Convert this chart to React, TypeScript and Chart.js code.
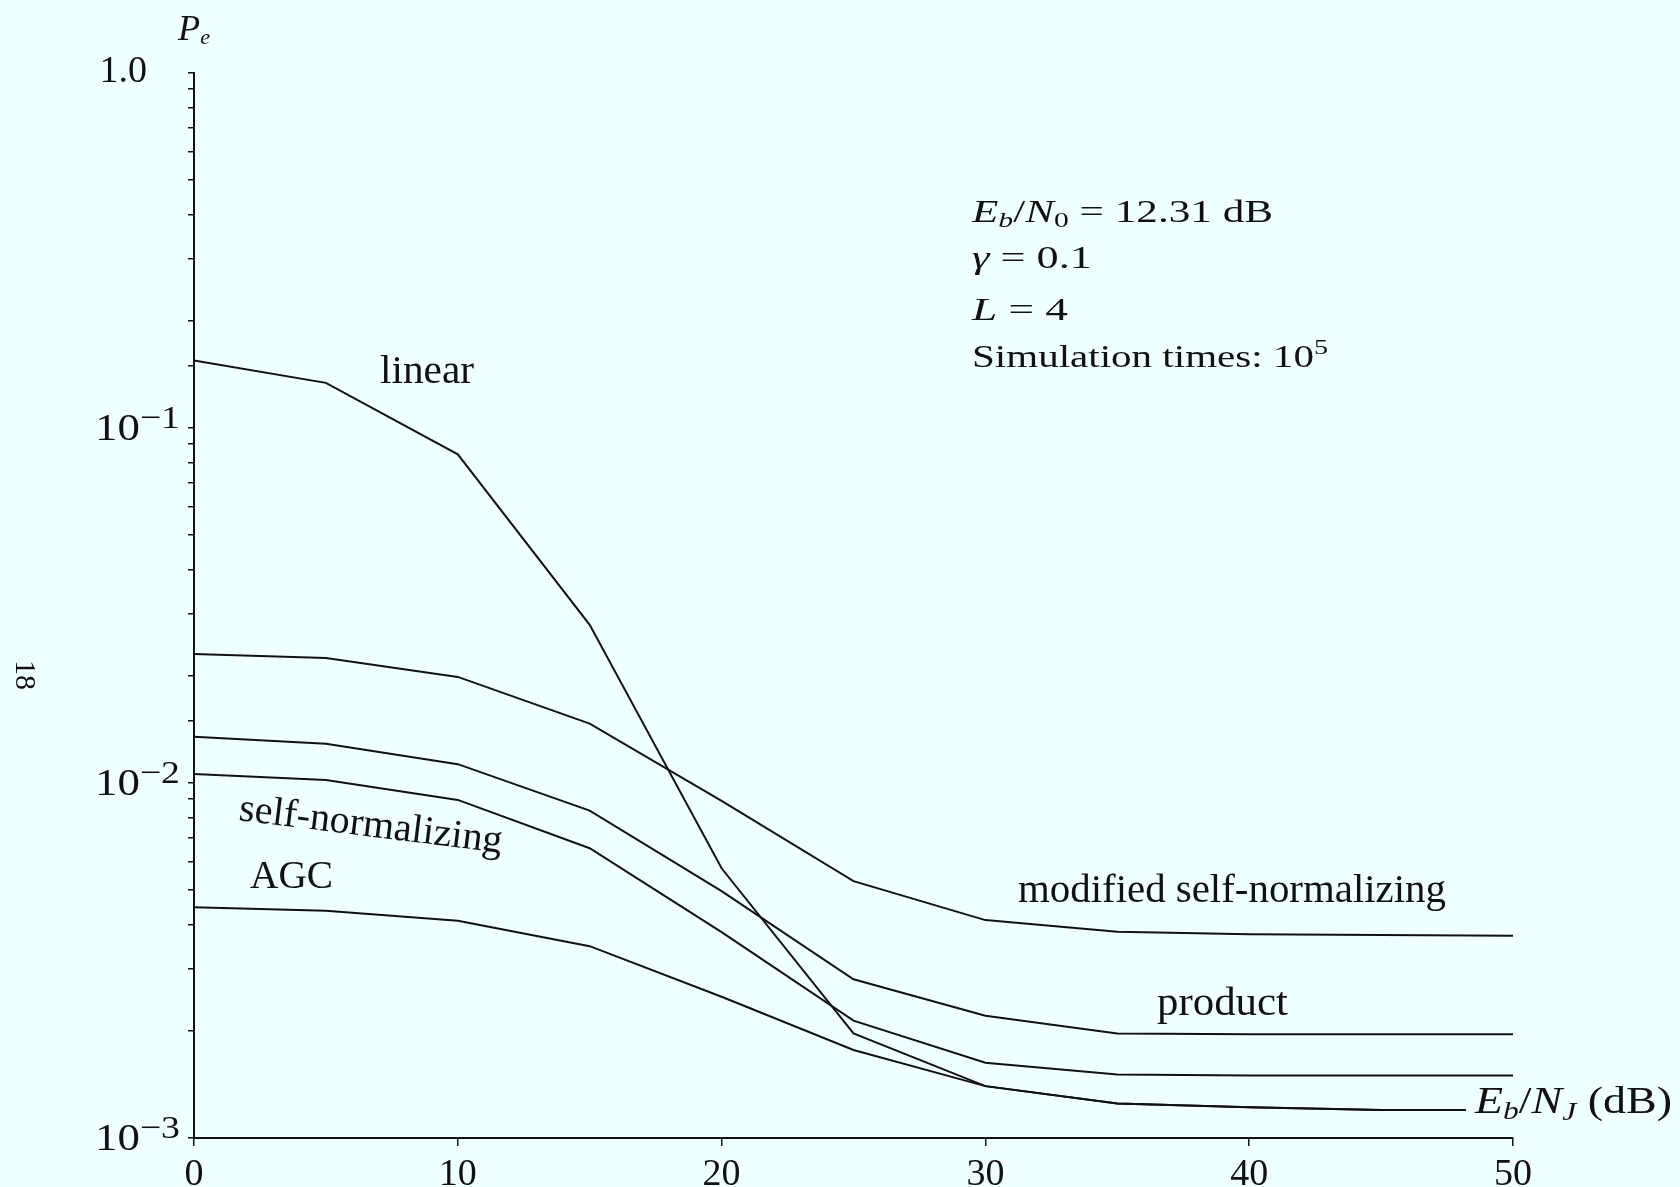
import React, { useEffect, useRef } from "react";
import { Chart, registerables } from "chart.js";

Chart.register(...registerables);

// ---- data ----
const ebnjDb = [0, 5, 10, 15, 20, 25, 30, 35, 40, 45, 50];
const linearPe = [0.155, 0.134, 0.0843, 0.0279, 0.00575, 0.00197, 0.0014, 0.00125, 0.00122, 0.0012, 0.0012];
const modifiedSelfNormPe = [0.0231, 0.0225, 0.0199, 0.0147, 0.0089, 0.00529, 0.00411, 0.00381, 0.00375, 0.00373, 0.00371];
const productPe = [0.0135, 0.0129, 0.0113, 0.00836, 0.00496, 0.0028, 0.00221, 0.00197, 0.00196, 0.00196, 0.00196];
const selfNormPe = [0.0106, 0.0102, 0.00896, 0.00655, 0.0038, 0.00214, 0.00163, 0.00151, 0.0015, 0.0015, 0.0015];
const agcPe = [0.00447, 0.00437, 0.00409, 0.00347, 0.0025, 0.00177, 0.0014, 0.00125, 0.00122, 0.0012, 0.0012];

const xTickValues = [0, 10, 20, 30, 40, 50];
const xTickLabels = ["0", "10", "20", "30", "40", "50"];
const yDecadeValues = [0.001, 0.01, 0.1];
const yDecadeExponents = ["\u22123", "\u22122", "\u22121"];
const yTopValue = 1;
const yTopLabel = "1.0";

const BG = "#f0ffff";
const INK = "#111111";
const SERIF = '"Liberation Serif", "Times New Roman", serif';

type Seg = { t: string; size: number; italic?: boolean; dy?: number };

function drawRich(ctx: CanvasRenderingContext2D, x: number, y: number, segs: Seg[], target?: number) {
  ctx.save();
  const widths: number[] = [];
  let total = 0;
  for (const s of segs) {
    ctx.font = `${s.italic ? "italic " : ""}${s.size}px ${SERIF}`;
    const w = ctx.measureText(s.t).width;
    widths.push(w);
    total += w;
  }
  const sc = target ? target / total : 1;
  ctx.translate(x, y);
  ctx.scale(sc, 1);
  ctx.textAlign = "left";
  ctx.textBaseline = "alphabetic";
  ctx.fillStyle = INK;
  let cx = 0;
  segs.forEach((s, i) => {
    ctx.font = `${s.italic ? "italic " : ""}${s.size}px ${SERIF}`;
    ctx.fillText(s.t, cx, s.dy || 0);
    cx += widths[i];
  });
  ctx.restore();
}

const textPlugin = {
  id: "refText",
  afterDraw(chart: any) {
    const ctx: CanvasRenderingContext2D = chart.ctx;
    const xs = chart.scales.x;
    const ys = chart.scales.y;
    ctx.save();
    ctx.fillStyle = INK;

    // x tick labels
    ctx.font = `38px ${SERIF}`;
    ctx.textAlign = "center";
    ctx.textBaseline = "alphabetic";
    xTickValues.forEach((v, i) => {
      ctx.fillText(xTickLabels[i], xs.getPixelForValue(v), ys.bottom + 47);
    });

    // y tick labels
    yDecadeValues.forEach((v, i) => {
      const py = ys.getPixelForValue(v);
      drawRich(ctx, 95, py + 12, [
        { t: "10", size: 38 },
        { t: yDecadeExponents[i], size: 32, dy: -12 },
      ], 85);
    });
    const pTop = ys.getPixelForValue(yTopValue);
    ctx.font = `38px ${SERIF}`;
    ctx.textAlign = "right";
    ctx.fillText(yTopLabel, 147, pTop + 9);

    // axis titles
    drawRich(ctx, 178, 40, [
      { t: "P", size: 36, italic: true },
      { t: "e", size: 22, italic: true, dy: 4 },
    ], 32);

    ctx.fillStyle = BG;
    ctx.fillRect(1466, 1080, 214, 45);
    drawRich(ctx, 1475, 1113, [
      { t: "E", size: 38, italic: true },
      { t: "b", size: 26, italic: true, dy: 6 },
      { t: "/", size: 38 },
      { t: "N", size: 38, italic: true },
      { t: "J", size: 26, italic: true, dy: 7 },
      { t: " (dB)", size: 38 },
    ], 197);

    // curve labels
    drawRich(ctx, 380, 383, [{ t: "linear", size: 40 }], 94);
    ctx.save();
    ctx.translate(238, 820);
    ctx.rotate(0.124);
    drawRich(ctx, 0, 0, [{ t: "self-normalizing", size: 40 }], 265);
    ctx.restore();
    drawRich(ctx, 250, 888, [{ t: "AGC", size: 40 }], 83);
    drawRich(ctx, 1018, 902, [{ t: "modified self-normalizing", size: 40 }], 428);
    drawRich(ctx, 1157, 1015, [{ t: "product", size: 40 }], 131);

    // annotation block
    drawRich(ctx, 972, 222, [
      { t: "E", size: 32, italic: true },
      { t: "b", size: 22, italic: true, dy: 5 },
      { t: "/", size: 32 },
      { t: "N", size: 32, italic: true },
      { t: "0", size: 22, dy: 5 },
      { t: " = 12.31 dB", size: 32 },
    ], 301);
    drawRich(ctx, 972, 268, [
      { t: "\u03b3", size: 32, italic: true },
      { t: " = 0.1", size: 32 },
    ], 120);
    drawRich(ctx, 972, 320, [
      { t: "L", size: 32, italic: true },
      { t: " = 4", size: 32 },
    ], 96);
    drawRich(ctx, 972, 367, [
      { t: "Simulation times: 10", size: 32 },
      { t: "5", size: 22, dy: -13 },
    ], 356);

    // page number
    ctx.save();
    ctx.translate(24, 675);
    ctx.rotate(Math.PI / 2);
    ctx.font = `30px ${SERIF}`;
    ctx.textAlign = "center";
    ctx.textBaseline = "middle";
    ctx.fillStyle = INK;
    ctx.fillText("18", 0, 0);
    ctx.restore();

    ctx.restore();
  },
};

function series(values: number[]) {
  return ebnjDb.map((x, i) => ({ x, y: values[i] }));
}

export default function App() {
  const canvasRef = useRef<HTMLCanvasElement | null>(null);

  useEffect(() => {
    document.body.style.margin = "0";
    document.body.style.background = BG;
    document.body.style.overflow = "hidden";
    const canvas = canvasRef.current;
    if (!canvas) return;
    const lineDs = (label: string, values: number[]) => ({
      label,
      data: series(values),
      borderColor: INK,
      borderWidth: 2,
      pointRadius: 0,
      tension: 0,
      fill: false,
    });
    const chart = new Chart(canvas, {
      type: "line",
      data: {
        datasets: [
          lineDs("linear", linearPe),
          lineDs("modified self-normalizing", modifiedSelfNormPe),
          lineDs("product", productPe),
          lineDs("self-normalizing", selfNormPe),
          lineDs("AGC", agcPe),
        ],
      },
      options: {
        animation: false,
        responsive: false,
        devicePixelRatio: 1,
        layout: { padding: { left: 188, right: 167, top: 73, bottom: 41 } },
        plugins: { legend: { display: false }, tooltip: { enabled: false } },
        scales: {
          x: {
            type: "linear",
            min: 0,
            max: 50,
            ticks: { display: false, stepSize: 10, autoSkip: false },
            grid: { display: true, drawOnChartArea: false, drawTicks: true, tickLength: 8, color: INK, lineWidth: 1.5 },
            border: { display: true, color: INK, width: 2 },
          },
          y: {
            type: "logarithmic",
            min: 0.001,
            max: 1,
            ticks: { display: false, autoSkip: false },
            grid: { display: true, drawOnChartArea: false, drawTicks: true, tickLength: 6, color: INK, lineWidth: 1.5 },
            border: { display: true, color: INK, width: 2 },
          },
        },
      } as any,
      plugins: [textPlugin],
    });
    return () => chart.destroy();
  }, []);

  return (
    <div style={{ width: 1680, height: 1187, background: BG }}>
      <canvas ref={canvasRef} width={1680} height={1187} style={{ display: "block" }} />
    </div>
  );
}
